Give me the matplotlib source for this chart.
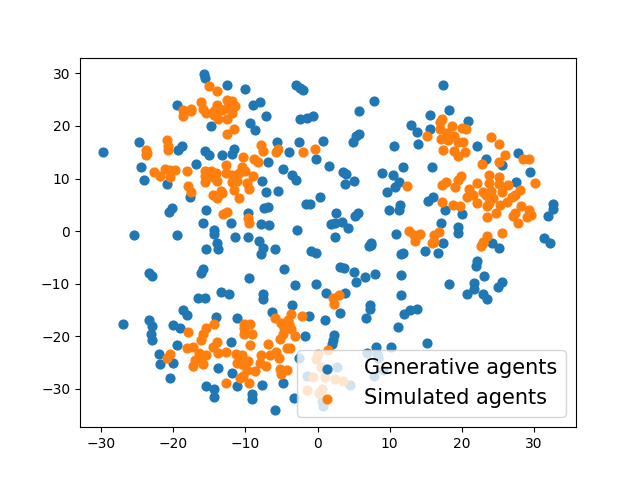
"""t-SNE style scatter of generative and simulated agents."""

import matplotlib

matplotlib.use("Agg")
import matplotlib.pyplot as plt
import numpy as np

generative_points = [
    (-15.8, 29.8), (-15.6, 29.1), (-12.5, 27.7), (-10.1, 27.1), (-3.0, 27.8), (-2.5, 27.3), (-2.0, 26.9),
    (-19.5, 23.9), (-8.9, 23.9), (-8.0, 24.5), (-7.2, 21.8), (-2.5, 21.4), (-1.4, 21.6), (-0.6, 21.8),
    (-14.8, 19.9), (-9.4, 20.5), (-8.7, 19.3), (-5.6, 17.0), (-2.6, 17.0), (0.8, 17.2), (-24.8, 16.9),
    (-29.8, 15.0), (-18.8, 16.2), (-19.3, 15.5), (-15.6, 15.3), (-15.1, 14.5), (-11.6, 15.6), (-11.8, 14.7),
    (-13.3, 14.4), (-4.0, 15.0), (-0.2, 13.8), (-6.8, 13.1), (-16.9, 12.7), (-24.5, 12.1), (-4.8, 11.9),
    (1.6, 12.3), (-3.6, 10.6), (-3.0, 9.8), (-24.0, 9.8), (-20.9, 8.9), (-7.7, 9.6), (-7.2, 7.5), (-5.5, 7.7),
    (-17.7, 6.4), (0.4, 6.5), (-1.6, 5.1), (-1.0, 5.1), (-15.4, 4.1), (-20.2, 4.3), (-20.6, 3.7), (-9.7, 3.4),
    (-7.4, 4.3), (-6.9, 4.5), (-15.9, 1.5), (-12.0, 1.5), (-7.8, 1.3), (-6.7, 1.1), (-14.4, 0.3), (-14.3, -0.6),
    (-2.9, 0.3), (-25.4, -0.8), (-19.5, -0.8), (-11.5, -1.2), (-9.7, -1.2), (-8.1, -1.8), (-14.0, -2.2),
    (17.4, 27.8), (7.8, 24.8), (5.7, 22.8), (18.2, 23.1), (15.6, 22.0), (20.9, 21.0), (13.0, 20.1), (13.8, 18.9),
    (15.6, 19.5), (5.7, 18.4), (5.3, 18.0), (4.9, 17.0), (10.6, 16.1), (13.9, 16.5), (22.1, 16.1), (27.8, 14.8),
    (23.4, 13.8), (25.5, 12.5), (29.4, 11.3), (11.9, 12.1), (15.9, 12.1), (8.9, 11.0), (10.4, 10.6), (3.5, 11.2),
    (3.9, 10.8), (3.8, 8.9), (5.0, 9.6), (11.3, 9.4), (10.7, 8.3), (9.6, 7.5), (27.5, 9.4), (16.0, 6.4),
    (15.3, 5.8), (11.4, 4.9), (11.3, 4.1), (9.9, 4.1), (17.7, 4.1), (20.0, 3.2), (2.6, 3.4), (5.6, 3.4),
    (5.2, 2.8), (3.4, 1.8), (2.4, 1.5), (1.9, 1.3), (4.2, 0.5), (2.4, -1.2), (17.1, 1.5), (19.4, 0.7),
    (19.5, -0.3), (10.9, -0.6), (32.7, 5.1), (32.7, 4.2), (32.0, 2.8), (31.4, -1.4), (32.2, -2.3), (7.4, -2.3),
    (17.4, -2.3), (24.2, -2.3),
    (-15.4, -3.5), (-13.8, -3.5), (-7.6, -3.2), (-7.9, -4.4), (-5.9, -3.5), (-0.9, -3.7), (-0.2, -4.1),
    (-4.7, -7.2), (-23.3, -7.9), (-23.0, -8.6), (-15.9, -7.3), (-16.2, -8.0), (-9.5, -9.0), (-3.1, -10.3),
    (-0.2, -10.1), (1.2, -11.7), (-13.4, -11.5), (-12.3, -11.9), (-7.5, -11.9), (-7.5, -13.0), (-16.5, -12.8),
    (-15.6, -12.8), (-3.6, -14.1), (-6.3, -15.3), (-18.6, -15.1), (-18.1, -16.0), (-14.1, -16.4), (-11.1, -16.6),
    (-1.2, -16.2), (1.1, -17.0), (-26.9, -17.6), (-23.4, -17.0), (-23.0, -18.1), (-23.1, -19.6), (-23.0, -20.8),
    (-20.0, -17.9), (-19.0, -18.5), (-19.5, -21.7), (-12.0, -21.0), (-1.8, -20.0), (-22.0, -23.3), (-21.9, -25.2),
    (-20.1, -25.0), (-20.4, -28.0), (-13.8, -26.1), (-11.9, -26.9), (-11.2, -29.5), (-15.5, -29.5), (-14.3, -30.1),
    (-14.4, -31.6), (-9.1, -31.0), (-9.1, -32.0), (-7.7, -29.2), (-4.8, -28.8), (-3.3, -31.8), (-5.9, -34.1),
    (-2.6, -24.2), (-1.5, -27.6), (6.8, -23.1), (8.2, -23.3), (8.4, -24.2), (2.7, -25.9), (4.5, -29.2), (7.8, -27.6),
    (9.1, -26.5), (0.6, -32.3), (0.7, -33.3),
    (7.1, -2.9), (7.4, -2.7), (11.6, -4.4), (11.9, -4.1), (14.9, -3.7), (16.7, -4.1), (25.2, -3.3), (22.1, -5.6),
    (21.9, -6.7), (23.1, -8.6), (25.6, -9.6), (25.0, -10.7), (21.7, -9.9), (21.7, -11.1), (20.7, -11.9), (23.0, -11.9),
    (23.5, -13.0), (18.2, -10.0), (11.6, -8.4), (11.6, -12.2), (8.0, -8.2), (6.6, -8.8), (5.3, -9.6), (5.1, -7.7),
    (3.7, -7.1), (3.1, -6.9), (3.8, -11.7), (7.3, -14.1), (7.3, -14.9), (6.7, -16.6), (3.1, -15.5), (13.8, -14.9),
    (12.8, -15.1), (12.0, -15.8), (11.2, -18.3), (2.3, -19.8), (2.2, -20.8), (2.0, -21.5), (15.2, -21.2), (8.1, -22.1),
    (10.2, -22.1),
]

simulated_points = [
    (-15.1, 27.5), (-14.0, 26.7), (-16.2, 24.5), (-12.6, 25.0), (-11.9, 24.8), (-11.5, 23.7), (-18.7, 23.1),
    (-17.5, 23.3), (-17.6, 22.8), (-18.7, 21.8), (-15.9, 23.3), (-15.4, 22.4), (-14.0, 23.9), (-14.3, 22.8),
    (-14.4, 22.0), (-13.8, 21.4), (-13.3, 23.1), (-12.6, 23.5), (-11.9, 22.4), (-12.6, 21.4), (-11.6, 19.5),
    (-12.5, 18.4), (-20.9, 17.4), (-20.7, 16.1), (-20.7, 15.5), (-23.8, 15.5), (-23.7, 14.8), (-23.8, 14.4),
    (-7.9, 16.3), (-7.5, 15.3), (-5.5, 15.7), (-5.8, 15.0), (-2.0, 15.1), (-0.4, 15.7), (-10.3, 14.0), (-8.8, 13.8),
    (-8.3, 13.2), (-12.7, 12.5), (-22.6, 11.2), (-21.8, 10.4), (-21.1, 11.9), (-20.5, 10.2), (-20.4, 11.7),
    (-19.7, 11.7), (-18.1, 11.5), (-15.6, 11.5), (-15.6, 10.4), (-15.6, 9.3), (-14.7, 11.5), (-14.1, 11.0),
    (-14.5, 10.2), (-14.0, 9.6), (-12.7, 11.0), (-11.9, 10.6), (-11.8, 9.4), (-11.1, 9.6), (-10.5, 12.1),
    (-10.9, 11.0), (-10.0, 11.5), (-9.0, 10.4), (-9.8, 9.1), (-9.5, 8.1), (-17.9, 8.5), (-17.6, 7.5), (-11.6, 7.9),
    (-13.4, 7.7), (-13.3, 7.2), (-14.5, 6.8), (-14.0, 6.2), (-10.9, 6.2), (-12.5, 3.7), (-13.1, 3.2), (-9.7, 2.4),
    (-9.5, 1.6),
    (17.3, 21.4), (17.0, 20.8), (17.0, 19.5), (15.2, 18.0), (18.7, 19.9), (20.0, 19.7), (20.6, 19.5), (17.1, 17.6),
    (18.0, 18.6), (18.1, 17.4), (18.9, 18.0), (19.4, 16.9), (20.2, 16.9), (17.4, 15.5), (18.9, 15.3), (19.5, 14.2),
    (20.5, 15.1), (24.1, 17.8), (25.2, 16.5), (26.0, 14.4), (25.2, 13.2), (22.8, 12.7), (28.5, 13.8), (29.3, 13.8),
    (30.2, 9.1), (12.4, 8.5), (17.8, 9.3), (17.3, 8.7), (19.0, 8.3), (19.9, 10.4), (19.5, 9.8), (21.0, 8.1),
    (22.1, 9.1), (23.8, 10.6), (23.8, 9.1), (25.2, 10.2), (25.2, 8.9), (26.4, 8.7), (25.5, 7.5), (28.1, 7.9),
    (22.9, 7.4), (24.1, 7.7), (21.6, 6.8), (20.7, 6.4), (22.1, 5.4), (23.4, 6.8), (24.3, 6.2), (23.7, 5.4),
    (23.5, 4.7), (17.3, 5.6), (18.8, 4.9), (19.8, 4.7), (27.4, 6.8), (26.9, 6.4), (26.3, 5.6), (25.3, 4.9),
    (24.8, 3.4), (23.5, 2.6), (28.2, 4.7), (29.3, 4.1), (27.4, 3.5), (27.1, 2.8), (27.8, 1.6), (29.1, 2.6),
    (29.6, 3.0), (25.5, -0.3), (12.7, 0.1), (13.4, -0.8), (14.2, -0.6), (13.5, -1.8), (16.9, -0.1), (16.2, -0.8),
    (15.9, -2.3), (23.5, -1.0), (22.9, -2.0), (16.2, -2.0), (22.7, -2.9), (23.0, -2.3),
    (-14.4, -17.6), (-15.4, -18.5), (-15.9, -19.5), (-16.1, -20.8), (-18.0, -19.1), (-18.1, -22.3), (-17.3, -22.1),
    (-16.4, -23.1), (-15.4, -23.6), (-16.2, -23.6), (-17.0, -24.6), (-17.2, -25.7), (-15.9, -25.2), (-20.5, -23.4),
    (-20.8, -24.2), (-14.0, -21.0), (-14.5, -22.1), (-13.8, -23.1), (-12.7, -22.9), (-11.3, -23.3), (-10.5, -23.6),
    (-11.1, -25.0), (-9.7, -24.8), (-10.5, -25.2), (-10.2, -17.6), (-9.3, -17.6), (-10.2, -18.5), (-10.2, -19.5),
    (-9.1, -19.6), (-9.3, -21.7), (-9.8, -26.5), (-10.8, -28.0), (-10.4, -27.6), (-9.5, -28.8), (-8.6, -26.7),
    (-12.7, -28.8), (-7.9, -23.6), (-8.0, -25.0), (-7.2, -25.7), (-6.8, -21.5), (-6.6, -23.6), (-5.7, -22.9),
    (-5.3, -24.2), (-5.2, -20.6), (-5.9, -16.6), (-5.1, -17.4), (-3.7, -15.8), (-4.1, -17.0), (-4.0, -17.7),
    (-4.7, -18.5), (-3.7, -18.7), (-4.8, -19.6), (-3.1, -20.0), (-4.3, -22.3), (-3.8, -22.3), (-2.2, -16.2),
    (-5.2, -26.3), (-4.3, -26.5), (-5.1, -27.1), (1.4, -22.7), (2.1, -12.8), (3.0, -12.2), (2.3, -13.8),
    (0.0, -23.3), (-0.2, -24.4), (0.5, -25.9), (-0.6, -27.8), (1.0, -27.8), (2.4, -28.2), (3.5, -28.6),
    (-1.5, -30.3), (0.6, -30.1), (0.2, -30.7),
]

labels = ["Generative agents", "Simulated agents"]

generative = np.array(generative_points)
simulated = np.array(simulated_points)

figure, axis = plt.subplots(figsize=(6.4, 4.8))
axis.scatter(generative[:, 0], generative[:, 1], s=40, label=labels[0])
axis.scatter(simulated[:, 0], simulated[:, 1], s=40, label=labels[1])
axis.legend(loc="lower right", fontsize=15)
figure.savefig("out.png", dpi=100)
plt.close(figure)
